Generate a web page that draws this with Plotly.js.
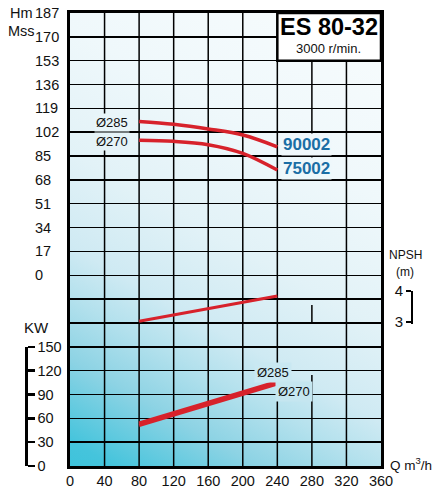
<!DOCTYPE html>
<html><head><meta charset="utf-8">
<script src="https://cdn.plot.ly/plotly-3.0.1.min.js"></script>
<style>html,body{margin:0;padding:0;background:#fff}#chart{width:433px;height:494px}</style>
</head><body><div id="chart"></div>
<script>
// ---- data ----
const flow = [80, 120, 160, 200, 240];               // Q m3/h
const head285 = [109.7, 107.6, 104.3, 100.0, 91.6];  // Hm, impeller Ø285
const head270 = [96.2, 95.5, 93.1, 86.9, 75.0];      // Hm, impeller Ø270
const power285 = [53.8, 66.7, 79.3, 92.8, 106.1];    // kW
const power270 = [51.2, 64.1, 76.7, 90.2, 103.5];    // kW
const npsh = [3.02, 3.23, 3.43, 3.64, 3.84];         // m
const qTicks = [0, 40, 80, 120, 160, 200, 240, 280, 320, 360];
const hmTicks = [0, 17, 34, 51, 68, 85, 102, 119, 136, 153, 170, 187];
const kwTicks = [0, 30, 60, 90, 120, 150];
const npshTicks = [3, 4];

// ---- layout helpers ----
const W = 433, H = 494;
const PL = 70, PT = 13, PW = 311, PH = 453;
const px = v => v / W, py = v => 1 - v / H;
const row = yPix => (PT + PH - yPix) / (PH / 19);   // grid-row coordinate of a pixel height
const FONT = '"Liberation Sans", Arial, sans-serif';
const RED = '#d7222b', BLUE = '#1a6ea5', GRID = '#000';

// gradient background (drawn on a canvas, used as a layout image)
const cv = document.createElement('canvas'); cv.width = PW; cv.height = PH;
const cx = cv.getContext('2d');
const gr = cx.createLinearGradient(0, PH, 269, -23);
gr.addColorStop(0, '#3ec3db');
gr.addColorStop(0.04, '#45c4dc');
gr.addColorStop(0.17, '#8dd3e4');
gr.addColorStop(0.27, '#b4e1ed');
gr.addColorStop(0.35, '#cfeaf3');
gr.addColorStop(0.5, '#e2f2f7');
gr.addColorStop(0.7, '#eff8fb');
gr.addColorStop(1, '#f8fcfd');
cx.fillStyle = gr; cx.fillRect(0, 0, PW, PH);
const bgImg = cv.toDataURL();
function sample(x, y) {
  const d = cx.getImageData(Math.round(x - PL), Math.round(y - PT), 1, 1).data;
  return 'rgb(' + d[0] + ',' + d[1] + ',' + d[2] + ')';
}

// vertical grid lines (the 280 line is interrupted in the reference)
const vShapes = [];
qTicks.slice(1, -1).forEach(q => {
  const segs = q === 280 ? [[0, row(375)], [row(176), 19]] : [[0, 19]];
  segs.forEach(s => vShapes.push({type: 'line', xref: 'x', yref: 'y', x0: q, x1: q, y0: s[0], y1: s[1],
    line: {color: GRID, width: 1.5}, layer: 'between'}));
});
vShapes.push({type: 'line', xref: 'x', yref: 'y', x0: 280, x1: 280, y0: row(323), y1: row(305),
  line: {color: GRID, width: 1.5}, layer: 'between'});

const traces = [
  {x: flow, y: head285, yaxis: 'y2', mode: 'lines', line: {color: RED, width: 3.5, shape: 'spline'}, hoverinfo: 'skip'},
  {x: flow, y: head270, yaxis: 'y2', mode: 'lines', line: {color: RED, width: 3.5, shape: 'spline'}, hoverinfo: 'skip'},
  {x: flow, y: power285, yaxis: 'y3', mode: 'lines', line: {color: RED, width: 3.5}, hoverinfo: 'skip'},
  {x: flow, y: power270, yaxis: 'y3', mode: 'lines', line: {color: RED, width: 3.5}, hoverinfo: 'skip'},
  {x: flow, y: npsh, yaxis: 'y4', mode: 'lines', line: {color: RED, width: 3}, hoverinfo: 'skip'}
];

function ann(text, x, y, o) {
  return Object.assign({text: text, x: px(x), y: py(y), xref: 'paper', yref: 'paper', showarrow: false,
    font: {family: FONT, size: 15, color: '#111'}, xanchor: 'center', yanchor: 'middle'}, o || {});
}
const tf = s => ({family: FONT, size: s, color: '#111'});

const layout = {
  width: W, height: H,
  margin: {l: 0, r: 0, t: 0, b: 0},
  paper_bgcolor: '#fff', plot_bgcolor: 'rgba(0,0,0,0)',
  showlegend: false,
  font: {family: FONT, size: 15, color: '#111'},
  xaxis: {domain: [px(PL), px(PL + PW)], range: [0, 360], tickvals: qTicks, showgrid: false,
    showline: true, linecolor: '#000', linewidth: 3, mirror: true, ticks: '', zeroline: false,
    tickfont: tf(14.5), automargin: false, fixedrange: true},
  yaxis: {domain: [py(PT + PH), py(PT)], range: [0, 19], tick0: 0, dtick: 1, showgrid: true, gridcolor: GRID, gridwidth: 1.5,
    showticklabels: false, ticks: '', showline: true, linecolor: '#000', linewidth: 3, mirror: true, zeroline: false,
    automargin: false, fixedrange: true},
  yaxis2: {domain: [py(275.2), py(PT)], range: [0, 187], tickvals: hmTicks, side: 'right', anchor: 'free', position: px(34),
    showgrid: false, showline: false, ticks: '', zeroline: false, tickfont: tf(14.5),
    automargin: false, fixedrange: true},
  yaxis3: {domain: [py(PT + PH), py(346.8)], range: [0, 150], tickvals: kwTicks, side: 'right', anchor: 'free', position: px(26),
    showgrid: false, showline: true, linecolor: '#000', linewidth: 2.5, ticks: 'outside', ticklen: 7, tickwidth: 2.5,
    tickcolor: '#000', zeroline: false, tickfont: tf(14.5), automargin: false, fixedrange: true},
  yaxis4: {domain: [py(323.5), py(291)], range: [2.95, 4], tickvals: npshTicks, side: 'left', anchor: 'free', position: px(412),
    showgrid: false, showline: true, linecolor: '#000', linewidth: 2, ticks: 'outside', ticklen: 5, tickwidth: 2,
    tickcolor: '#000', zeroline: false, tickfont: tf(15), automargin: false, fixedrange: true},
  images: [
    {source: bgImg, xref: 'x', yref: 'y', x: 0, y: 19, sizex: 360, sizey: 19, sizing: 'stretch',
      xanchor: 'left', yanchor: 'top', layer: 'below'}
  ],
  shapes: vShapes.concat([{type: 'rect', xref: 'x', yref: 'y', x0: 240, x1: 360, y0: 17, y1: 19, fillcolor: '#fff',
    line: {color: '#000', width: 2.5}, layer: 'above'}]),
  annotations: [
    ann('<b>ES 80-32</b>', 329, 27, {font: {family: FONT, size: 23.5, color: '#000'}}),
    ann('3000 r/min.', 328, 48, {font: tf(13)}),
    ann('Hm', 21, 13, {font: tf(14.5)}), ann('Mss', 21, 31, {font: tf(14.5)}), ann('KW', 36, 327),
    ann('NPSH', 405, 255, {font: tf(12)}),
    ann('(m)', 405, 272, {font: tf(12)}),
    ann('Q m<sup>3</sup>/h', 388, 464, {xanchor: 'left', font: tf(13.5)}),
    ann('Ø285', 112, 122, {font: tf(13), bgcolor: sample(112, 122)}),
    ann('Ø270', 112, 141, {font: tf(13), bgcolor: sample(112, 141)}),
    ann('<b>90002</b>', 281, 144, {xanchor: 'left', font: {family: FONT, size: 17, color: BLUE}, bgcolor: sample(300, 144)}),
    ann('<b>75002</b>', 281, 168, {xanchor: 'left', font: {family: FONT, size: 17, color: BLUE}, bgcolor: sample(300, 168)}),
    ann('Ø285', 273, 372, {font: tf(13), bgcolor: sample(273, 372), borderpad: 2}),
    ann('Ø270', 294, 391, {font: tf(13), bgcolor: sample(294, 391), borderpad: 2})
  ]
};

Plotly.newPlot('chart', traces, layout, {staticPlot: true, displayModeBar: false});
</script></body></html>
